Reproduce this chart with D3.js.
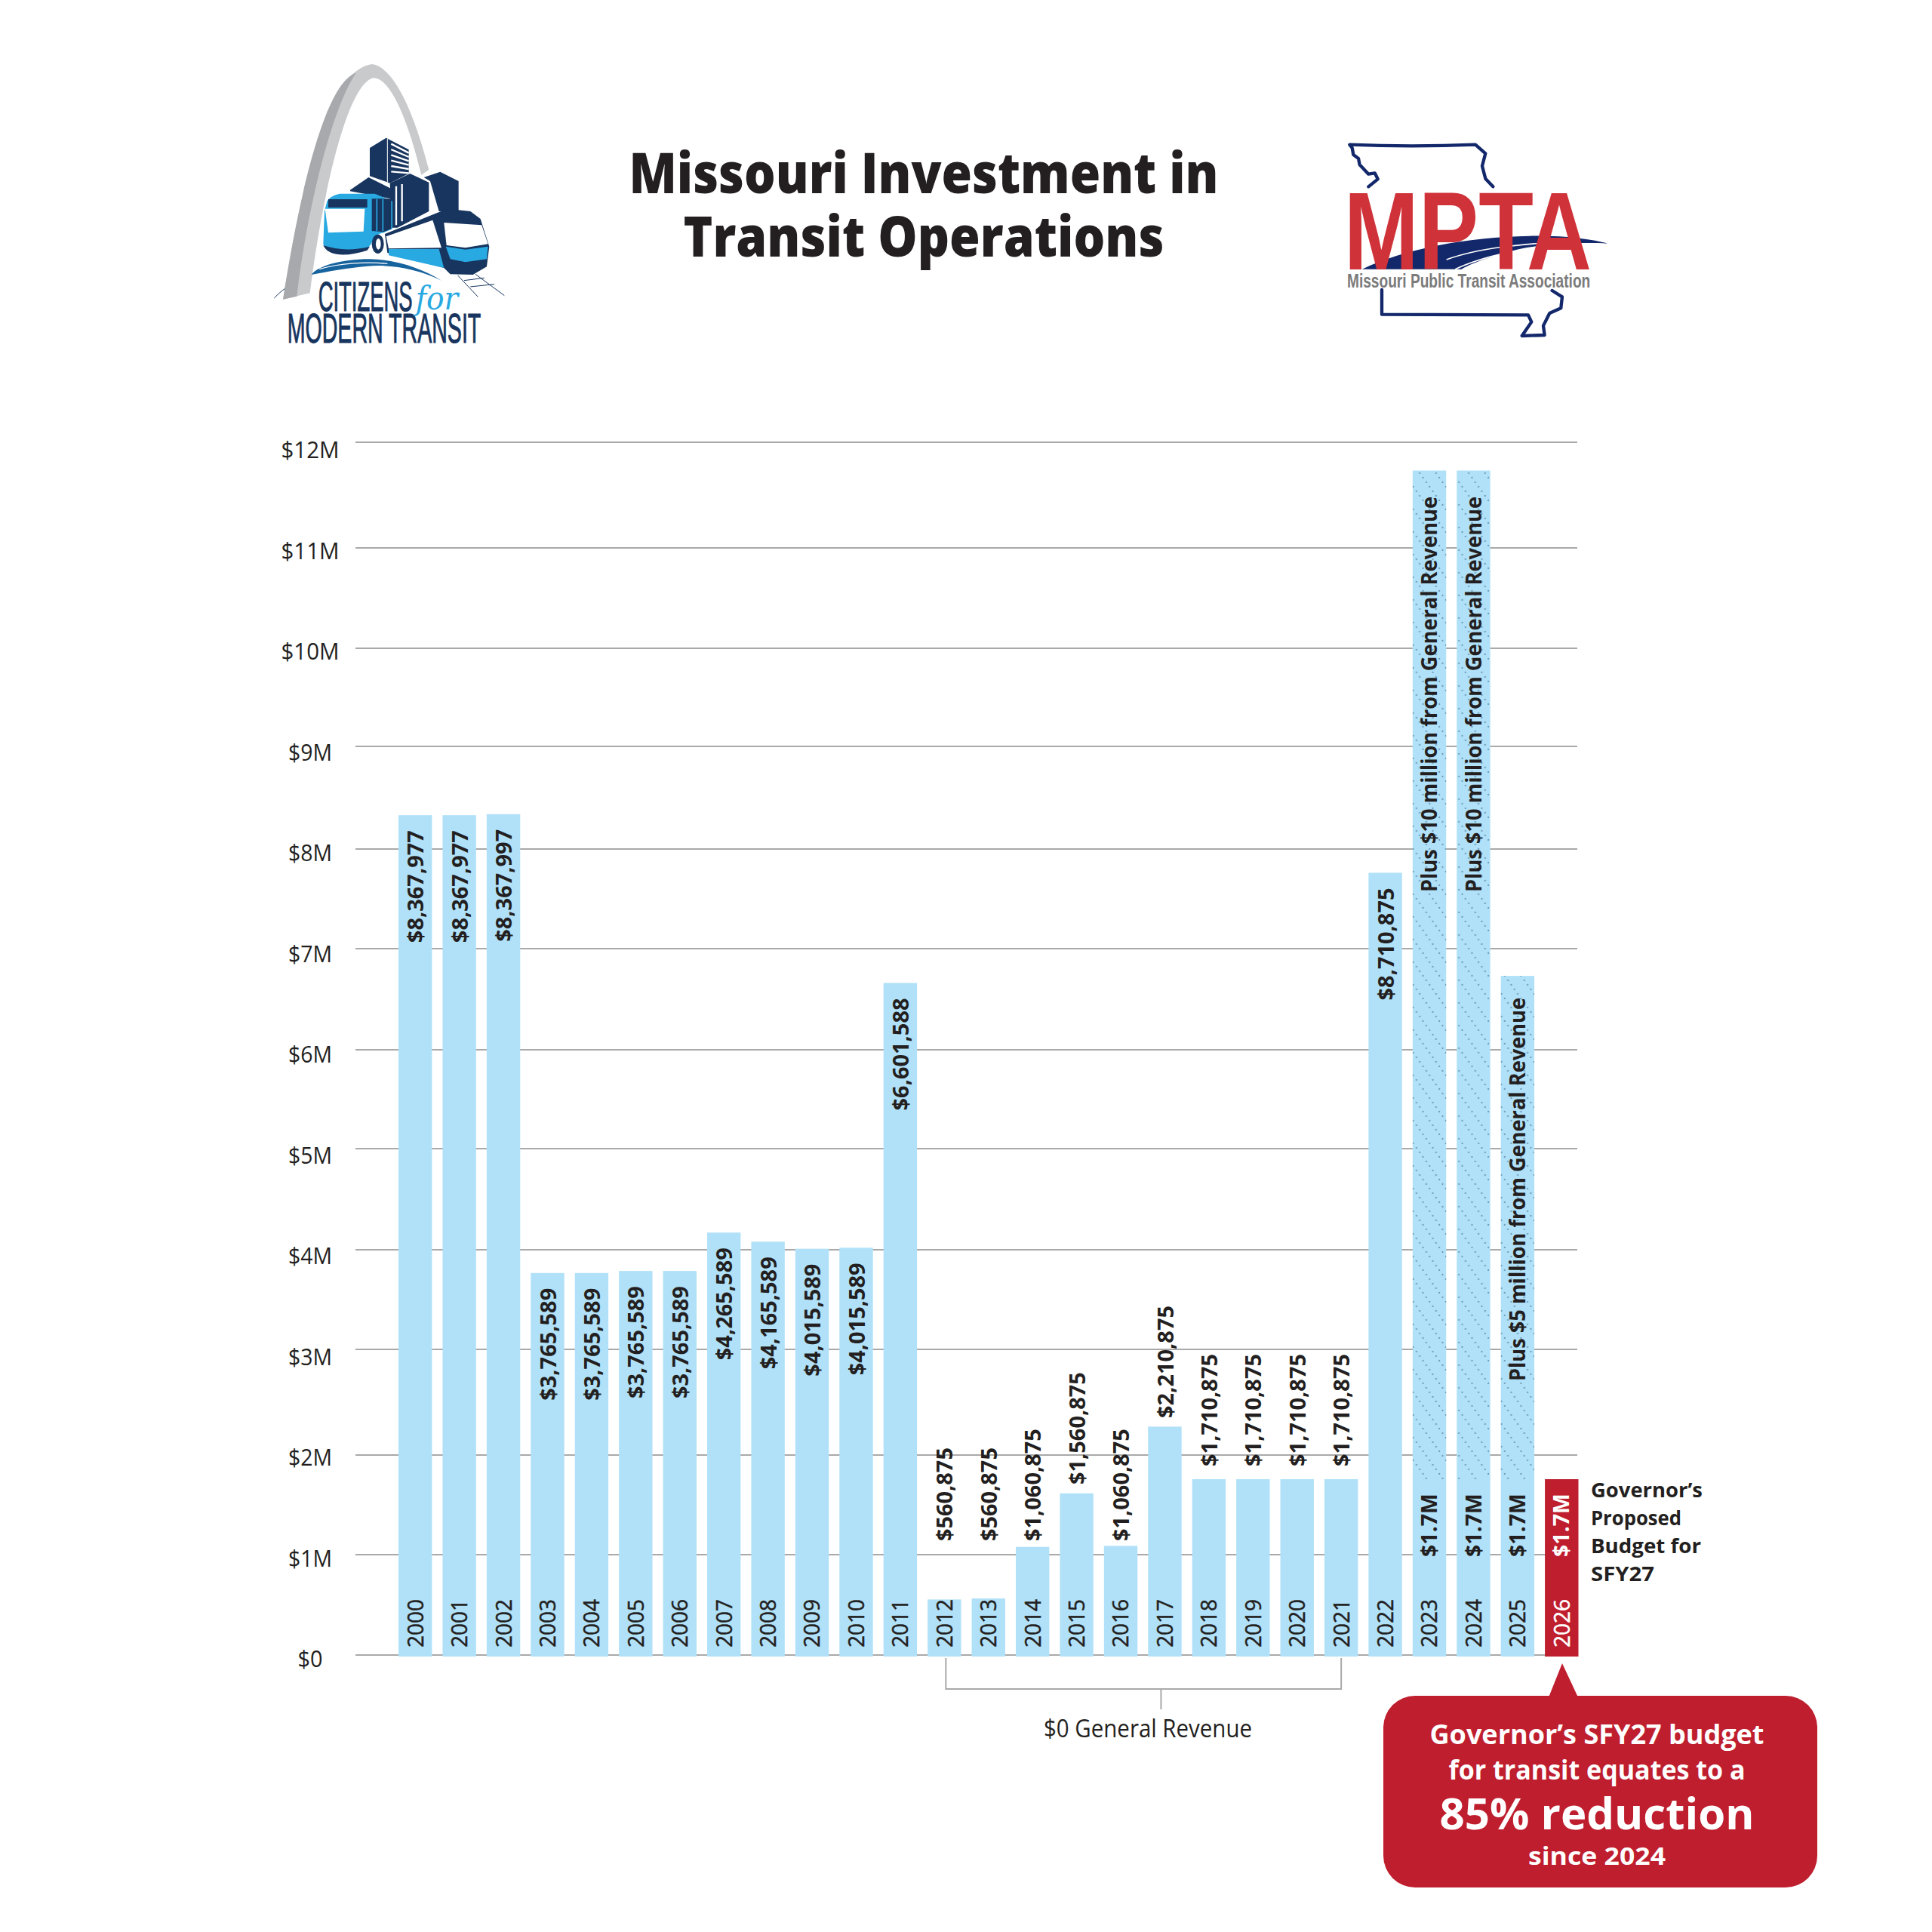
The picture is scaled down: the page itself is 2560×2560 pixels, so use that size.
<!DOCTYPE html>
<html><head><meta charset="utf-8">
<script src="https://cdn.jsdelivr.net/npm/d3@7/dist/d3.min.js"></script>
<style>html,body{margin:0;padding:0;background:#fff}svg{display:block}text{font-family:"Open Sans",sans-serif}</style>
</head><body><svg id="c" width="2560" height="2560"></svg>
<script>
const years=["2000","2001","2002","2003","2004","2005","2006","2007","2008","2009","2010","2011","2012","2013","2014","2015","2016","2017","2018","2019","2020","2021","2022","2023","2024","2025","2026"];
const barValues=[8.31,8.31,8.32,3.78,3.78,3.80,3.80,4.18,4.09,4.02,4.03,6.65,0.55,0.56,1.07,1.60,1.08,2.26,1.74,1.74,1.74,1.74,7.74,11.72,11.72,6.72,1.74];
const valueLabels=["$8,367,977","$8,367,977","$8,367,997","$3,765,589","$3,765,589","$3,765,589","$3,765,589","$4,265,589","$4,165,589","$4,015,589","$4,015,589","$6,601,588","$560,875","$560,875","$1,060,875","$1,560,875","$1,060,875","$2,210,875","$1,710,875","$1,710,875","$1,710,875","$1,710,875","$8,710,875","$1.7M","$1.7M","$1.7M","$1.7M"];
const outsideYears=["2012","2013","2014","2015","2016","2017","2018","2019","2020","2021"];
const outsideLabelBases=[1.127,1.127,1.127,1.687,1.127,2.345,1.867,1.867,1.867,1.867];
const hatchYears=["2023","2024","2025"];
const hatchLabels=["Plus $10 million from General Revenue","Plus $10 million from General Revenue","Plus $5 million from General Revenue"];
const baseBudget=1.74;
const yTicks=[0,1,2,3,4,5,6,7,8,9,10,11,12];
const yTickLabels=yTicks.map(d=>"$"+d+(d?"M":""));
const noteLines=["Governor’s","Proposed","Budget for","SFY27"];
const calloutLines=["Governor’s SFY27 budget","for transit equates to a","85% reduction","since 2024"];
const titleLines=["Missouri Investment in","Transit Operations"];

const svg=d3.select("#c");
const INK="#231f20",BAR="#b1e1f9",RED="#bf1e2e",NAVY="#17355e",CYAN="#29a9e1";
const x=d3.scaleBand().domain(years).range([521,2098.5]).paddingInner(0.24).paddingOuter(0.12);
const y=d3.scaleLinear().domain([0,12]).range([2193,586]);
const gridY=d3.scaleLinear().domain(yTicks).range([2193,2060,1928,1788,1656,1522,1391,1257,1125,989,859,726,586]);
const tickY=d3.scaleLinear().domain([0,12]).range([2209,607]);
const bw=x.bandwidth();
const fit=(s,n)=>s.attr("textLength",n).attr("lengthAdjust","spacingAndGlyphs");

const defs=svg.append("defs");
const pat=defs.append("pattern").attr("id","hatch").attr("patternUnits","userSpaceOnUse").attr("width",21.65).attr("height",30);
pat.selectAll("circle").data(d3.range(5)).join("circle").attr("cx",d=>d*4.33+2).attr("cy",d=>d*6+3).attr("r",1.15).attr("fill","#6f9cb8");

// grid
svg.append("g").selectAll("line").data(yTicks).join("line")
 .attr("x1",471).attr("x2",2090).attr("y1",d=>gridY(d)).attr("y2",d=>gridY(d)).attr("stroke","#a9a9a9").attr("stroke-width",2);
svg.append("g").selectAll("text").data(yTicks).join("text")
 .attr("x",411).attr("y",d=>tickY(d)).attr("text-anchor","middle").attr("font-size",31).attr("fill",INK)
 .text((d,i)=>yTickLabels[i]).each(function(d,i){fit(d3.select(this),d>=10?77:d>0?58:33);});

// bars
const rows=years.map((yr,i)=>({yr,v:barValues[i],lab:valueLabels[i],i}));
svg.append("g").selectAll("rect").data(rows).join("rect")
 .attr("x",d=>x(d.yr)).attr("width",bw).attr("y",d=>y(d.v)).attr("height",d=>y(0)-y(d.v)+2)
 .attr("fill",d=>d.yr==="2026"?RED:BAR);
svg.append("g").selectAll("rect").data(rows.filter(d=>hatchYears.includes(d.yr))).join("rect")
 .attr("x",d=>x(d.yr)).attr("width",bw).attr("y",d=>y(d.v)).attr("height",d=>y(baseBudget)-y(d.v))
 .attr("fill","url(#hatch)");

// year labels
const rot=(sel,fx,fy)=>sel.attr("transform",(d,i)=>`translate(${fx(d,i)},${fy(d,i)}) rotate(-90)`);
svg.append("g").selectAll("text").data(rows).join("text")
 .call(rot,d=>x(d.yr)+bw/2,()=>2183).attr("dy","0.36em").attr("font-size",29)
 .attr("fill",d=>d.yr==="2026"?"#fff":INK).attr("stroke",d=>d.yr==="2026"?"#fff":INK).attr("stroke-width",0.5)
 .text(d=>d.yr).each(function(){fit(d3.select(this),64);});

// value labels
const isOut=d=>outsideYears.includes(d.yr);
svg.append("g").selectAll("text").data(rows.filter(d=>!d.lab.endsWith("M"))).join("text")
 .call(rot,d=>x(d.yr)+bw/2+1,d=>isOut(d)?y(outsideLabelBases[outsideYears.indexOf(d.yr)]):y(d.v)+20)
 .attr("dy","0.36em").attr("font-size",28).attr("font-weight",700).attr("fill",INK)
 .attr("text-anchor",d=>isOut(d)?"start":"end").text(d=>d.lab)
 .each(function(d){fit(d3.select(this),d.lab.length===8?124:149);});
svg.append("g").selectAll("text").data(rows.filter(d=>d.lab.endsWith("M"))).join("text")
 .call(rot,d=>x(d.yr)+bw/2,()=>2063).attr("dy","0.36em").attr("font-size",28).attr("font-weight",700)
 .attr("fill",d=>d.yr==="2026"?"#fff":INK).text(d=>d.lab).each(function(){fit(d3.select(this),84);});
svg.append("g").selectAll("text").data(hatchYears).join("text")
 .call(rot,d=>x(d)+bw/2,d=>d==="2025"?1830:1182).attr("dy","0.36em").attr("font-size",28).attr("font-weight",700).attr("fill",INK)
 .text((d,i)=>hatchLabels[i]).each(function(d,i){fit(d3.select(this),i==2?508:524);});

// bracket
const bl=x("2012")+bw/2+2,br=x("2021")+bw/2,bm=x("2017")+bw/2-5;
svg.append("path").attr("d",`M${bl} 2197V2238H${br}V2197M${bm} 2238V2265`).attr("fill","none").attr("stroke","#a9a9a9").attr("stroke-width",2);
fit(svg.append("text").attr("x",1383).attr("y",2302).attr("font-size",32).attr("fill",INK).text("$0 General Revenue"),276);

// title
svg.append("g").selectAll("text").data(titleLines).join("text").attr("x",1224).attr("y",(d,i)=>256+i*84).attr("text-anchor","middle")
 .attr("font-size",75).attr("font-weight",800).attr("fill",INK).text(d=>d).each(function(d,i){fit(d3.select(this),i?637:781);});

// note
svg.append("g").selectAll("text").data(noteLines).join("text").attr("x",2108).attr("y",(d,i)=>1984+i*37).attr("font-size",27).attr("font-weight",700).attr("fill",INK)
 .text(d=>d).each(function(d,i){fit(d3.select(this),[148,120,146,84][i]);});

// callout
const cx=2116;
svg.append("path").attr("d","M2070 2204L2091 2249H2052Z").attr("fill",RED);
svg.append("rect").attr("x",1833).attr("y",2247).attr("width",575).attr("height",254).attr("rx",42).attr("fill",RED);
const cs=[[2311,35,443],[2358,35,393],[2424,58,417],[2471,33,182]];
svg.append("g").selectAll("text").data(calloutLines).join("text").attr("x",cx).attr("y",(d,i)=>cs[i][0]).attr("text-anchor","middle")
 .attr("font-size",(d,i)=>cs[i][1]).attr("font-weight",700).attr("fill","#fff").text(d=>d).each(function(d,i){fit(d3.select(this),cs[i][2]);});

// Citizens for Modern Transit logo
const L=svg.append("g").attr("transform","translate(340,60) scale(0.3333)");
const P=(g,d,f)=>g.append("path").attr("d",d).attr("fill",f);
P(L,"M105 1010C170 600 270 100 460 75C560 90 640 320 685 495L655 515C610 330 540 130 465 130C360 150 260 600 212 985Z","#c9cacc");
P(L,"M105 1010C170 600 270 150 395 110C300 250 200 650 160 998Z","#a7a9ac");
L.append("path").attr("d","M70 1005C85 990 100 975 112 968").attr("fill","none").attr("stroke",NAVY).attr("stroke-width",3);
P(L,"M450 408L515 368L605 415V510L530 548L450 520Z",NAVY);
L.append("path").attr("d","M520 372V545").attr("stroke","#fff").attr("stroke-width",3);
L.append("g").selectAll("path").data([0,1,2,3,4,5]).join("path").attr("d",d=>`M535 ${392+d*22}L605 ${428+d*16}`).attr("stroke","#fff").attr("stroke-width",7);
P(L,"M372 575L445 525L535 570V610L372 580Z",NAVY);
P(L,"M665 525L730 503L803 540V660L725 660L690 540Z",NAVY);
P(L,"M530 548L610 510L685 545V660L560 725H540Z",NAVY);
L.append("path").attr("d","M555 560V715M578 552V700").attr("stroke","#fff").attr("stroke-width",7);
P(L,"M280 620Q290 600 330 590L470 590L540 620V730L505 745Q470 750 455 790L440 810Q380 830 330 830Q280 825 265 790L270 660Z",CYAN);
P(L,"M285 612H440V645H285Z",NAVY);
P(L,"M272 650L430 650L425 740L285 745Z","#fff");
P(L,"M458 610H535V730L505 742L458 738Z",NAVY);
L.append("path").attr("d","M478 612V738M502 612V738").attr("stroke",CYAN).attr("stroke-width",5);
P(L,"M265 795Q350 825 450 800L440 815Q380 835 330 832Q280 828 265 795Z",NAVY);
L.append("ellipse").attr("cx",482).attr("cy",790).attr("rx",24).attr("ry",38).attr("fill",NAVY);
L.append("ellipse").attr("cx",484).attr("cy",790).attr("rx",10).attr("ry",22).attr("fill","#fff");
P(L,"M510 750L720 665L760 650L850 660L890 690L925 800L915 880L860 912L770 910L745 885L520 825Z",NAVY);
P(L,"M515 760L700 695L735 805L525 808Z","#fff");
P(L,"M525 810L725 810L745 885L525 835Z",CYAN);
P(L,"M745 705L895 715L920 790L830 805L755 795Z","#fff");
P(L,"M752 800L830 812L920 800L915 850L830 862L770 850Z",CYAN);
P(L,"M218 912C240 880 330 850 450 850C560 852 660 890 735 935C640 890 540 870 440 878C360 885 280 900 218 912Z","#17639e");
L.append("path").attr("d","M250 890C330 865 440 860 520 868").attr("fill","none").attr("stroke","#fff").attr("stroke-width",4);
L.append("path").attr("d","M800 915L880 1000M870 910L985 995M825 935L905 925M850 960L945 950").attr("fill","none").attr("stroke",NAVY).attr("stroke-width",3);
const narrow='"Liberation Sans Narrow","Liberation Sans"';
fit(L.append("text").attr("x",245).attr("y",1055).attr("font-size",165).attr("fill",NAVY).attr("stroke",NAVY).attr("stroke-width",3).style("font-family",narrow).text("CITIZENS"),375);
fit(L.append("text").attr("x",122).attr("y",1183).attr("font-size",165).attr("fill",NAVY).attr("stroke",NAVY).attr("stroke-width",3).style("font-family",narrow).text("MODERN TRANSIT"),770);
fit(L.append("text").attr("x",632).attr("y",1050).attr("font-size",130).attr("font-style","italic").attr("fill",CYAN).style("font-family","'DejaVu Serif'").text("for"),170);

// MPTA logo
const M=svg.append("g").attr("transform","translate(1760,160) scale(0.3333)");
const MN="#13286b";
M.append("path").attr("fill","none").attr("stroke",MN).attr("stroke-width",13).attr("stroke-linejoin","round").attr("stroke-linecap","round")
 .attr("d","M160 262L197 232L185 208L160 212L125 175L120 150L100 135L95 108L85 95Q330 105 585 95L625 130L612 180L625 230L655 262M213 672V770L795 772L808 800L770 855L860 852L855 815L880 765L925 745L930 700L890 675");
P(M,"M135 590C300 510 550 462 800 458C950 456 1050 472 1110 488C1000 482 860 490 760 510C680 530 580 560 530 590Z",MN);
M.append("path").attr("d","M470 552C600 505 760 490 980 478M505 590C620 535 780 505 980 484").attr("fill","none").attr("stroke","#fff").attr("stroke-width",5);
fit(M.append("text").attr("x",62).attr("y",590).attr("font-size",440).attr("font-weight",700).attr("fill","#cf3339").style("font-family",'"Liberation Sans"').text("MPTA"),985);
fit(M.append("text").attr("x",75).attr("y",662).attr("font-size",76).attr("font-weight",700).attr("fill","#7b7b7b").style("font-family",narrow).text("Missouri Public Transit Association"),967);
</script></body></html>
